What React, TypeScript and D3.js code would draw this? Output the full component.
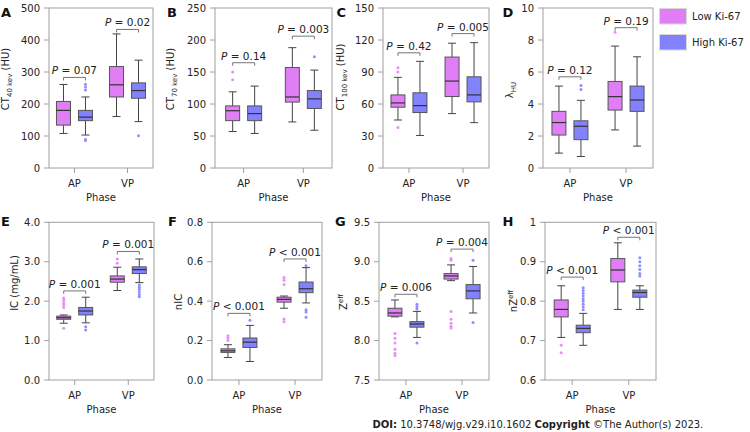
import React from "react";
import * as d3 from "d3";

const phases = ["AP", "VP"];
const groupNames = ["Low Ki-67", "High Ki-67"];
const groupFill = ["#E07FF5", "#8282FF"];
const groupDot = ["#E98DF8", "#8E8EFF"];

// box stats per phase (AP, VP): [lower whisker, q1, median, q3, upper whisker]
const ct40Low = [[108, 134, 180, 208, 261], [161, 222, 260, 317, 419]];
const ct40High = [[103, 148, 159, 180, 222], [145, 218, 242, 266, 337]];
const ct40LowOut = [[], []];
const ct40HighOut = [[262, 253, 244, 89, 86], [101]];
const ct40Ticks = [0, 100, 200, 300, 400, 500];
const ct40Bracket = [283, 433];
const ct40P = ["= 0.07", "= 0.02"];

const ct70Low = [[57, 74, 89.5, 97, 119], [72, 103, 111, 157, 188]];
const ct70High = [[54, 74, 85, 97, 128], [59, 93, 108, 121, 153]];
const ct70LowOut = [[150, 138], []];
const ct70HighOut = [[], [174]];
const ct70Ticks = [0, 50, 100, 150, 200, 250];
const ct70Bracket = [164.5, 206];
const ct70P = ["= 0.14", "= 0.003"];

const ct100Low = [[45, 57, 61, 68.5, 85], [51, 67, 81.5, 104, 117]];
const ct100High = [[30.5, 52, 58.5, 70.5, 100], [42.5, 62, 68.5, 85.5, 117.5]];
const ct100LowOut = [[94, 90, 38], []];
const ct100HighOut = [[], []];
const ct100Ticks = [0, 30, 60, 90, 120, 150];
const ct100Bracket = [108, 126];
const ct100P = ["= 0.42", "= 0.005"];

const lamLow = [[0.93, 2.06, 2.84, 3.54, 5.12], [2.38, 3.62, 4.46, 5.41, 7.62]];
const lamHigh = [[0.72, 1.77, 2.61, 2.95, 4.23], [1.37, 3.54, 4.25, 5.12, 6.95]];
const lamLowOut = [[], [8.48]];
const lamHighOut = [[5.16, 4.9], []];
const lamTicks = [0, 2, 4, 6, 8, 10];
const lamBracket = [5.7, 8.77];
const lamP = ["= 0.12", "= 0.19"];

const icLow = [[1.44, 1.54, 1.58, 1.62, 1.65], [2.27, 2.48, 2.56, 2.64, 2.86]];
const icHigh = [[1.45, 1.65, 1.75, 1.84, 2.1], [2.47, 2.7, 2.8, 2.87, 3.07]];
const icLowOut = [[2.08, 2.02, 1.96, 1.9, 1.84, 1.31], [3.07, 2.96]];
const icHighOut = [[1.35, 1.27], [2.41, 2.35, 2.3, 2.24, 2.17, 2.11]];
const icTicks = [0, 1, 2, 3, 4];
const icBracket = [2.26, 3.26];
const icP = ["= 0.001", "= 0.001"];

const nicLow = [[0.114, 0.14, 0.148, 0.158, 0.179], [0.364, 0.395, 0.409, 0.42, 0.426]];
const nicHigh = [[0.094, 0.165, 0.192, 0.213, 0.277], [0.391, 0.443, 0.463, 0.497, 0.57]];
const nicLowOut = [[0.225, 0.213, 0.2], [0.52, 0.506, 0.485, 0.31, 0.295]];
const nicHighOut = [[0.303], [0.58, 0.357, 0.345, 0.318]];
const nicTicks = [0, 0.2, 0.4, 0.6, 0.8];
const nicBracket = [0.338, 0.614];
const nicP = ["< 0.001", "< 0.001"];

const zLow = [[8.3, 8.31, 8.35, 8.41, 8.515], [8.76, 8.78, 8.82, 8.85, 8.96]];
const zHigh = [[8.04, 8.17, 8.21, 8.24, 8.37], [8.35, 8.53, 8.63, 8.71, 8.94]];
const zLowOut = [[8.09, 8.03, 7.97, 7.89, 7.84, 7.81], [9.04, 9.02, 8.37, 8.27, 8.22, 8.18, 8.16]];
const zHighOut = [[8.46, 8.43, 8.4, 7.97], [9.02, 8.23]];
const zTicks = [7.5, 8, 8.5, 9, 9.5];
const zBracket = [8.587, 9.16];
const zP = ["= 0.006", "= 0.004"];

const nzLow = [[0.708, 0.76, 0.779, 0.803, 0.839], [0.779, 0.849, 0.879, 0.908, 0.948]];
const nzHigh = [[0.688, 0.72, 0.731, 0.739, 0.769], [0.779, 0.81, 0.822, 0.828, 0.839]];
const nzLowOut = [[0.688, 0.669], []];
const nzHighOut = [[0.834, 0.827, 0.82, 0.813, 0.806, 0.8, 0.792, 0.785, 0.778], [0.91, 0.9, 0.89, 0.88, 0.87, 0.864]];
const nzTicks = [0.6, 0.7, 0.8, 0.9, 1];
const nzBracket = [0.861, 0.962];
const nzP = ["< 0.001", "< 0.001"];

const FONT = "'DejaVu Sans', Verdana, sans-serif";

type Lab = { t: string; kind?: "sub" | "sup" }[];

const panels = [
  { letter: "A", lx: 1, ly: 16.7, x0: 49, x1: 153, y0: 8, y1: 168, domain: [0, 500], ticks: ct40Ticks, fmt: d3.format("d"), low: ct40Low, high: ct40High, lowOut: ct40LowOut, highOut: ct40HighOut, br: ct40Bracket, p: ct40P, labX: 9, labY: 79, lab: [{ t: "CT" }, { t: "40 kev", kind: "sub" }, { t: " (HU)" }] as Lab },
  { letter: "B", lx: 167, ly: 16.7, x0: 215, x1: 332, y0: 8, y1: 168, domain: [0, 250], ticks: ct70Ticks, fmt: d3.format("d"), low: ct70Low, high: ct70High, lowOut: ct70LowOut, highOut: ct70HighOut, br: ct70Bracket, p: ct70P, labX: 174, labY: 79, lab: [{ t: "CT" }, { t: "70 kev", kind: "sub" }, { t: " (HU)" }] as Lab },
  { letter: "C", lx: 336.5, ly: 16.7, x0: 383, x1: 489, y0: 8, y1: 168, domain: [0, 150], ticks: ct100Ticks, fmt: d3.format("d"), low: ct100Low, high: ct100High, lowOut: ct100LowOut, highOut: ct100HighOut, br: ct100Bracket, p: ct100P, labX: 344, labY: 77, lab: [{ t: "CT" }, { t: "100 kev", kind: "sub" }, { t: " (HU)" }] as Lab },
  { letter: "D", lx: 502.5, ly: 16.7, x0: 543, x1: 653, y0: 8, y1: 168, domain: [0, 10], ticks: lamTicks, fmt: d3.format("d"), low: lamLow, high: lamHigh, lowOut: lamLowOut, highOut: lamHighOut, br: lamBracket, p: lamP, labX: 513, labY: 90, lab: [{ t: "λ" }, { t: "HU", kind: "sub" }] as Lab },
  { letter: "E", lx: 1, ly: 225.7, x0: 49, x1: 154, y0: 222.3, y1: 380, domain: [0, 4], ticks: icTicks, fmt: d3.format(".1f"), low: icLow, high: icHigh, lowOut: icLowOut, highOut: icHighOut, br: icBracket, p: icP, labX: 17.5, labY: 283, lab: [{ t: "IC (mg/mL)" }] as Lab },
  { letter: "F", lx: 168, ly: 225.7, x0: 212, x1: 322, y0: 222.3, y1: 380, domain: [0, 0.8], ticks: nicTicks, fmt: d3.format(".1f"), low: nicLow, high: nicHigh, lowOut: nicLowOut, highOut: nicHighOut, br: nicBracket, p: nicP, labX: 182, labY: 302, lab: [{ t: "nIC" }] as Lab },
  { letter: "G", lx: 335, ly: 225.7, x0: 379, x1: 489, y0: 222.3, y1: 380, domain: [7.5, 9.5], ticks: zTicks, fmt: d3.format(".1f"), low: zLow, high: zHigh, lowOut: zLowOut, highOut: zHighOut, br: zBracket, p: zP, labX: 347, labY: 302, lab: [{ t: "Z" }, { t: "eff", kind: "sup" }] as Lab },
  { letter: "H", lx: 502.5, ly: 225.7, x0: 545, x1: 656, y0: 222.3, y1: 380, domain: [0.6, 1.0], ticks: nzTicks, fmt: (v: number) => (v === 1 ? "1" : d3.format(".1f")(v)), low: nzLow, high: nzHigh, lowOut: nzLowOut, highOut: nzHighOut, br: nzBracket, p: nzP, labX: 517, labY: 301, lab: [{ t: "nZ" }, { t: "eff", kind: "sup" }] as Lab },
];

function YLabel({ x, y, parts }: { x: number; y: number; parts: Lab }) {
  const nodes: React.ReactNode[] = [];
  let shift = 0;
  parts.forEach((p, i) => {
    const target = p.kind === "sub" ? 3 : p.kind === "sup" ? -4 : 0;
    const dy = target - shift;
    shift = target;
    nodes.push(
      <tspan key={i} dy={dy} fontSize={p.kind ? 7 : 10}>
        {p.t}
      </tspan>
    );
  });
  return (
    <text transform={`translate(${x},${y}) rotate(-90)`} textAnchor="middle" fontFamily={FONT} fill="#222">
      {nodes}
    </text>
  );
}

function Panel({ cfg }: { cfg: (typeof panels)[number] }) {
  const y = d3.scaleLinear().domain(cfg.domain).range([cfg.y1, cfg.y0]);
  const x = d3.scalePoint<string>().domain(phases).range([cfg.x0, cfg.x1]).padding(0.48);
  const offsets = [-11, 11];
  const bw = 14;
  const cap = 4;
  const series = [
    { stats: cfg.low, out: cfg.lowOut },
    { stats: cfg.high, out: cfg.highOut },
  ];
  return (
    <g>
      <text x={cfg.lx} y={cfg.ly} fontFamily={FONT} fontWeight="bold" fontSize={13} fill="#111">
        {cfg.letter}
      </text>
      <rect x={cfg.x0} y={cfg.y0} width={cfg.x1 - cfg.x0} height={cfg.y1 - cfg.y0} fill="none" stroke="#a0a0a0" strokeWidth={1} />
      {cfg.ticks.map((t) => (
        <g key={t}>
          <line x1={cfg.x0 - 5} x2={cfg.x0} y1={y(t)} y2={y(t)} stroke="#a0a0a0" />
          <text x={cfg.x0 - 9} y={y(t)} dy="0.35em" textAnchor="end" fontFamily={FONT} fontSize={10} fill="#222">
            {cfg.fmt(t)}
          </text>
        </g>
      ))}
      {phases.map((ph) => (
        <g key={ph}>
          <line x1={x(ph)} x2={x(ph)} y1={cfg.y1} y2={cfg.y1 + 5} stroke="#a0a0a0" />
          <text x={x(ph)} y={cfg.y1 + 19} textAnchor="middle" fontFamily={FONT} fontSize={10} fill="#222">
            {ph}
          </text>
        </g>
      ))}
      <text x={(cfg.x0 + cfg.x1) / 2} y={cfg.y1 + 32.5} textAnchor="middle" fontFamily={FONT} fontSize={10} fill="#222">
        Phase
      </text>
      <YLabel x={cfg.labX} y={cfg.labY} parts={cfg.lab} />
      {series.map((s, gi) =>
        phases.map((ph, pi) => {
          const [lo, q1, md, q3, hi] = s.stats[pi];
          const cx = (x(ph) as number) + offsets[gi];
          return (
            <g key={`${gi}-${pi}`}>
              {s.out[pi].map((v, k) => (
                <circle key={k} cx={cx} cy={y(v)} r={1.5} fill={groupDot[gi]} />
              ))}
              <line x1={cx} x2={cx} y1={y(hi)} y2={y(q3)} stroke="#444" />
              <line x1={cx} x2={cx} y1={y(q1)} y2={y(lo)} stroke="#444" />
              <line x1={cx - cap} x2={cx + cap} y1={y(hi)} y2={y(hi)} stroke="#444" />
              <line x1={cx - cap} x2={cx + cap} y1={y(lo)} y2={y(lo)} stroke="#444" />
              <rect x={cx - bw / 2} y={y(q3)} width={bw} height={Math.max(0.5, y(q1) - y(q3))} fill={groupFill[gi]} stroke="#555" strokeWidth={1} />
              <line x1={cx - bw / 2} x2={cx + bw / 2} y1={y(md)} y2={y(md)} stroke="#333" strokeWidth={1.2} />
            </g>
          );
        })
      )}
      {phases.map((ph, pi) => {
        const xa = (x(ph) as number) + offsets[0];
        const xb = (x(ph) as number) + offsets[1];
        const by = y(cfg.br[pi]);
        return (
          <g key={`br-${ph}`}>
            <path d={`M${xa},${by + 3}V${by}H${xb}V${by + 3}`} fill="none" stroke="#666" strokeWidth={0.9} />
            <text x={(xa + xb) / 2} y={by - 3} textAnchor="middle" fontFamily={FONT} fontSize={10.5} fill="#222">
              <tspan fontStyle="italic">P</tspan>
              <tspan>{" " + cfg.p[pi]}</tspan>
            </text>
          </g>
        );
      })}
    </g>
  );
}

export default function App() {
  return (
    <svg width={750} height={432} style={{ position: "absolute", left: 0, top: 0, background: "#fff" }}>
      <rect width={750} height={432} fill="#fff" />
      {panels.map((p) => (
        <Panel key={p.letter} cfg={p} />
      ))}
      {groupNames.map((g, i) => (
        <g key={g}>
          <rect x={659.5} y={8.5 + i * 26} width={27} height={15.5} fill={groupFill[i]} stroke="#d8d8d8" />
          <text x={692} y={16.5 + i * 26} dy="0.35em" fontFamily={FONT} fontSize={10} fill="#222">
            {g}
          </text>
        </g>
      ))}
      <text x={372.5} y={427.5} fontFamily={FONT} fontSize={10} fill="#222">
        <tspan fontWeight="bold">DOI:</tspan>
        <tspan> 10.3748/wjg.v29.i10.1602 </tspan>
        <tspan fontWeight="bold"> Copyright</tspan>
        <tspan> ©The Author(s) 2023.</tspan>
      </text>
    </svg>
  );
}
